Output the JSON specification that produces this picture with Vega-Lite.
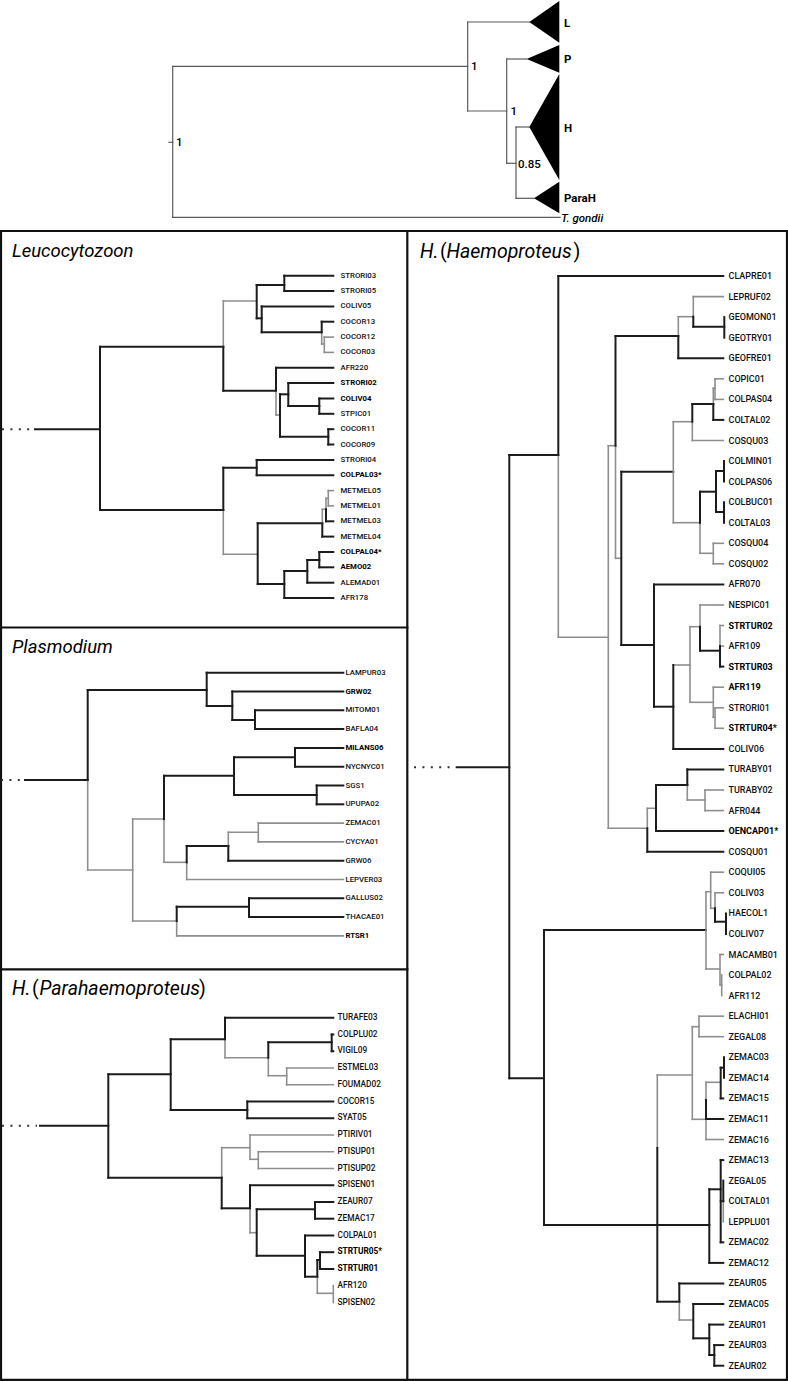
{
"$schema":"https://vega.github.io/schema/vega-lite/v6.json",
"width":788,"height":1381,"padding":0,"autosize":{"type":"none"},
"background":"white",
"config":{"view":{"stroke":null},"font":"Roboto"},
"datasets":{
"h":[
{"x":169,"x2":172.7,"y":142.3,"s":"t"},{"x":172.7,"x2":467.7,"y":66.3,"s":"t"},{"x":172.7,"x2":560,"y":217.3,"s":"t"},{"x":467.7,"x2":529.3,"y":22,"s":"t"},{"x":467.7,"x2":506.7,"y":111,"s":"t"},{"x":506.7,"x2":526.7,"y":59,"s":"t"},{"x":506.7,"x2":516,"y":163.3,"s":"t"},{"x":516,"x2":529.3,"y":127,"s":"t"},{"x":516,"x2":534,"y":198.3,"s":"t"},
{"x":0,"x2":788,"y":231,"s":"f"},{"x":0,"x2":407.3,"y":627.5,"s":"f"},{"x":0,"x2":407.3,"y":969.3,"s":"f"},{"x":0,"x2":788,"y":1379.8,"s":"f"},
{"x":35,"x2":100,"y":429.2,"s":"k"},{"x":100,"x2":223.3,"y":346.7,"s":"k"},{"x":223.3,"x2":256.7,"y":301,"s":"g"},{"x":256.7,"x2":284.3,"y":285,"s":"k"},{"x":284.3,"x2":333.3,"y":275.7,"s":"k"},{"x":284.3,"x2":333.3,"y":291,"s":"k"},{"x":256.7,"x2":261.7,"y":318.3,"s":"k"},{"x":261.7,"x2":333.3,"y":306.4,"s":"k"},{"x":261.7,"x2":321.7,"y":332.3,"s":"k"},{"x":321.7,"x2":333.3,"y":321.7,"s":"k"},{"x":321.7,"x2":324.3,"y":344,"s":"g"},{"x":324.3,"x2":333.3,"y":337.1,"s":"g"},{"x":324.3,"x2":333.3,"y":352.4,"s":"g"},{"x":223.3,"x2":276,"y":390.7,"s":"k"},{"x":276,"x2":333.3,"y":367.8,"s":"k"},{"x":276,"x2":280,"y":415,"s":"g"},{"x":280,"x2":288.3,"y":394.3,"s":"k"},{"x":288.3,"x2":333.3,"y":383.1,"s":"k"},{"x":288.3,"x2":319.3,"y":406,"s":"k"},{"x":319.3,"x2":333.3,"y":398.5,"s":"k"},{"x":319.3,"x2":333.3,"y":413.8,"s":"k"},{"x":280,"x2":328.3,"y":436.7,"s":"k"},{"x":328.3,"x2":333.3,"y":429.2,"s":"k"},{"x":328.3,"x2":333.3,"y":444.5,"s":"k"},{"x":100,"x2":223.3,"y":510,"s":"k"},{"x":223.3,"x2":256.7,"y":467.7,"s":"k"},{"x":256.7,"x2":333.3,"y":459.9,"s":"k"},{"x":256.7,"x2":333.3,"y":475.2,"s":"k"},{"x":223.3,"x2":257.7,"y":554.3,"s":"g"},{"x":257.7,"x2":322.3,"y":523.3,"s":"k"},{"x":322.3,"x2":333.3,"y":536.6,"s":"k"},{"x":322.3,"x2":326,"y":509.3,"s":"g"},{"x":326,"x2":333.3,"y":521.3,"s":"k"},{"x":326,"x2":328.3,"y":498.3,"s":"g"},{"x":328.3,"x2":333.3,"y":490.6,"s":"g"},{"x":328.3,"x2":333.3,"y":505.9,"s":"g"},{"x":257.7,"x2":284.3,"y":584,"s":"k"},{"x":284.3,"x2":333.3,"y":598,"s":"k"},{"x":284.3,"x2":307.3,"y":571,"s":"k"},{"x":307.3,"x2":333.3,"y":582.7,"s":"k"},{"x":307.3,"x2":319.3,"y":560,"s":"k"},{"x":319.3,"x2":333.3,"y":552,"s":"k"},{"x":319.3,"x2":333.3,"y":567.3,"s":"k"},
{"x":25,"x2":87.7,"y":780,"s":"k"},{"x":87.7,"x2":206.7,"y":690,"s":"k"},{"x":206.7,"x2":343.3,"y":672.7,"s":"k"},{"x":206.7,"x2":232.3,"y":706,"s":"k"},{"x":232.3,"x2":343.3,"y":691.5,"s":"k"},{"x":232.3,"x2":255,"y":720,"s":"k"},{"x":255,"x2":343.3,"y":710.3,"s":"k"},{"x":255,"x2":343.3,"y":729.1,"s":"k"},{"x":87.7,"x2":132.7,"y":870,"s":"g"},{"x":132.7,"x2":164,"y":819,"s":"g"},{"x":164,"x2":234,"y":775.7,"s":"k"},{"x":234,"x2":295,"y":757.3,"s":"k"},{"x":295,"x2":343.3,"y":747.9,"s":"k"},{"x":295,"x2":343.3,"y":766.7,"s":"k"},{"x":234,"x2":316.7,"y":795,"s":"k"},{"x":316.7,"x2":343.3,"y":785.5,"s":"k"},{"x":316.7,"x2":343.3,"y":804.3,"s":"k"},{"x":164,"x2":186.7,"y":862.3,"s":"g"},{"x":186.7,"x2":228.3,"y":846,"s":"k"},{"x":228.3,"x2":258.3,"y":832.3,"s":"g"},{"x":258.3,"x2":343.3,"y":823.1,"s":"g"},{"x":258.3,"x2":343.3,"y":841.9,"s":"g"},{"x":228.3,"x2":343.3,"y":860.7,"s":"k"},{"x":186.7,"x2":343.3,"y":879.5,"s":"g"},{"x":132.7,"x2":176.7,"y":921,"s":"g"},{"x":176.7,"x2":249,"y":906.7,"s":"k"},{"x":249,"x2":343.3,"y":898.3,"s":"k"},{"x":249,"x2":343.3,"y":917.1,"s":"k"},{"x":176.7,"x2":343.3,"y":935.9,"s":"g"},
{"x":40,"x2":108.3,"y":1125.7,"s":"k"},{"x":108.3,"x2":170.7,"y":1074.3,"s":"k"},{"x":170.7,"x2":225,"y":1039.3,"s":"k"},{"x":225,"x2":333.3,"y":1017.7,"s":"k"},{"x":225,"x2":268.3,"y":1057.7,"s":"g"},{"x":268.3,"x2":331.7,"y":1042.3,"s":"k"},{"x":331.7,"x2":333.3,"y":1034.5,"s":"k"},{"x":331.7,"x2":333.3,"y":1051.2,"s":"k"},{"x":268.3,"x2":286.7,"y":1075.7,"s":"g"},{"x":286.7,"x2":333.3,"y":1068,"s":"g"},{"x":286.7,"x2":333.3,"y":1084.7,"s":"g"},{"x":170.7,"x2":247.3,"y":1110,"s":"k"},{"x":247.3,"x2":333.3,"y":1101.5,"s":"k"},{"x":247.3,"x2":333.3,"y":1118.2,"s":"k"},{"x":108.3,"x2":221.7,"y":1177.7,"s":"k"},{"x":221.7,"x2":250,"y":1147.7,"s":"g"},{"x":250,"x2":333.3,"y":1135,"s":"g"},{"x":250,"x2":258.3,"y":1159.3,"s":"g"},{"x":258.3,"x2":333.3,"y":1151.7,"s":"g"},{"x":258.3,"x2":333.3,"y":1168.5,"s":"g"},{"x":221.7,"x2":250,"y":1208.3,"s":"k"},{"x":250,"x2":333.3,"y":1185.2,"s":"k"},{"x":250,"x2":256.7,"y":1232.7,"s":"g"},{"x":256.7,"x2":315,"y":1209.3,"s":"k"},{"x":315,"x2":333.3,"y":1202,"s":"k"},{"x":315,"x2":333.3,"y":1218.7,"s":"k"},{"x":256.7,"x2":305,"y":1255.7,"s":"k"},{"x":305,"x2":333.3,"y":1235.5,"s":"k"},{"x":305,"x2":317.3,"y":1276.7,"s":"k"},{"x":317.3,"x2":320,"y":1260,"s":"k"},{"x":320,"x2":333.3,"y":1252.2,"s":"k"},{"x":320,"x2":333.3,"y":1269,"s":"k"},{"x":317.3,"x2":333.3,"y":1293.3,"s":"g"},
{"x":456.7,"x2":509.3,"y":767.3,"s":"k"},{"x":509.3,"x2":558.3,"y":455,"s":"k"},{"x":558.3,"x2":723.3,"y":276,"s":"k"},{"x":558.3,"x2":608.3,"y":637.3,"s":"g"},{"x":608.3,"x2":615.5,"y":445.7,"s":"g"},{"x":615.5,"x2":678.3,"y":336,"s":"k"},{"x":678.3,"x2":693.3,"y":316.7,"s":"g"},{"x":693.3,"x2":723.3,"y":296.6,"s":"g"},{"x":693.3,"x2":724.3,"y":326.7,"s":"k"},{"x":678.3,"x2":723.3,"y":358.2,"s":"k"},{"x":615.5,"x2":621.3,"y":558.3,"s":"g"},{"x":621.3,"x2":673.3,"y":471.7,"s":"k"},{"x":673.3,"x2":692.3,"y":421.7,"s":"g"},{"x":692.3,"x2":713.3,"y":404,"s":"k"},{"x":713.3,"x2":715,"y":388.3,"s":"g"},{"x":715,"x2":723.3,"y":378.8,"s":"g"},{"x":715,"x2":723.3,"y":399.4,"s":"g"},{"x":713.3,"x2":723.3,"y":419.9,"s":"k"},{"x":692.3,"x2":723.3,"y":440.5,"s":"g"},{"x":673.3,"x2":700,"y":522.7,"s":"g"},{"x":700,"x2":716,"y":491.7,"s":"k"},{"x":716,"x2":724,"y":471,"s":"k"},{"x":716,"x2":724,"y":512,"s":"k"},{"x":700,"x2":713.3,"y":553.3,"s":"g"},{"x":713.3,"x2":723.3,"y":543.3,"s":"g"},{"x":713.3,"x2":723.3,"y":563.8,"s":"g"},{"x":621.3,"x2":654,"y":645,"s":"k"},{"x":654,"x2":723.3,"y":584.4,"s":"k"},{"x":654,"x2":673.3,"y":706.7,"s":"k"},{"x":673.3,"x2":690,"y":665,"s":"g"},{"x":690,"x2":700,"y":626.7,"s":"g"},{"x":700,"x2":723.3,"y":605,"s":"g"},{"x":700,"x2":720,"y":650.7,"s":"k"},{"x":720,"x2":723.3,"y":625.5,"s":"g"},{"x":720,"x2":723.3,"y":646.1,"s":"g"},{"x":720,"x2":723.3,"y":666.6,"s":"k"},{"x":690,"x2":713.3,"y":702.3,"s":"g"},{"x":713.3,"x2":723.3,"y":687.2,"s":"g"},{"x":713.3,"x2":715,"y":717.3,"s":"g"},{"x":715,"x2":723.3,"y":707.8,"s":"g"},{"x":715,"x2":723.3,"y":728.3,"s":"g"},{"x":673.3,"x2":723.3,"y":748.9,"s":"k"},{"x":608.3,"x2":647.3,"y":828.3,"s":"g"},{"x":647.3,"x2":656,"y":808.3,"s":"g"},{"x":656,"x2":687.3,"y":785,"s":"k"},{"x":687.3,"x2":723.3,"y":769.4,"s":"k"},{"x":687.3,"x2":705,"y":800,"s":"g"},{"x":705,"x2":723.3,"y":790,"s":"g"},{"x":705,"x2":723.3,"y":810.6,"s":"g"},{"x":656,"x2":723.3,"y":831.1,"s":"k"},{"x":647.3,"x2":723.3,"y":851.7,"s":"k"},{"x":509.3,"x2":544,"y":1078.3,"s":"k"},{"x":544,"x2":706,"y":930,"s":"k"},{"x":706,"x2":710.7,"y":891.7,"s":"g"},{"x":710.7,"x2":723.3,"y":872.2,"s":"g"},{"x":710.7,"x2":715,"y":908.3,"s":"g"},{"x":715,"x2":723.3,"y":892.8,"s":"g"},{"x":715,"x2":726,"y":921.7,"s":"k"},{"x":706,"x2":720,"y":969,"s":"g"},{"x":720,"x2":723.3,"y":954.5,"s":"g"},{"x":720,"x2":721.7,"y":985,"s":"g"},{"x":544,"x2":709.3,"y":1225,"s":"k"},{"x":657.3,"x2":692.3,"y":1075,"s":"g"},{"x":692.3,"x2":699,"y":1026.7,"s":"g"},{"x":699,"x2":723.3,"y":1016.2,"s":"g"},{"x":699,"x2":723.3,"y":1036.7,"s":"g"},{"x":692.3,"x2":706,"y":1119.3,"s":"g"},{"x":706,"x2":720.7,"y":1082.3,"s":"g"},{"x":720.7,"x2":724,"y":1067.7,"s":"k"},{"x":720.7,"x2":723.3,"y":1098.4,"s":"k"},{"x":706,"x2":723.3,"y":1119,"s":"k"},{"x":706,"x2":723.3,"y":1139.5,"s":"g"},{"x":709.3,"x2":720.7,"y":1189.3,"s":"k"},{"x":720.7,"x2":723.3,"y":1160.1,"s":"k"},{"x":720.7,"x2":723.3,"y":1201.2,"s":"k"},{"x":720.7,"x2":723.3,"y":1242.3,"s":"k"},{"x":709.3,"x2":723.3,"y":1262.9,"s":"k"},{"x":657.3,"x2":679.3,"y":1301.7,"s":"k"},{"x":679.3,"x2":723.3,"y":1283.4,"s":"k"},{"x":679.3,"x2":693.3,"y":1320,"s":"g"},{"x":693.3,"x2":723.3,"y":1304,"s":"k"},{"x":693.3,"x2":709.3,"y":1338.3,"s":"k"},{"x":709.3,"x2":723.3,"y":1324.6,"s":"k"},{"x":709.3,"x2":714.3,"y":1355,"s":"k"},{"x":714.3,"x2":723.3,"y":1345.1,"s":"k"},{"x":714.3,"x2":723.3,"y":1365.7,"s":"k"}
],
"v":[
{"x":172.7,"y":66.3,"y2":217.3,"s":"t"},{"x":467.7,"y":22,"y2":111,"s":"t"},{"x":506.7,"y":59,"y2":163.3,"s":"t"},{"x":516,"y":127,"y2":198.3,"s":"t"},
{"x":1,"y":231,"y2":1379.8,"s":"f"},{"x":407.3,"y":231,"y2":1379.8,"s":"f"},{"x":787,"y":231,"y2":1379.8,"s":"f"},
{"x":100,"y":346.7,"y2":510,"s":"k"},{"x":223.3,"y":301,"y2":346.7,"s":"g"},{"x":223.3,"y":346.7,"y2":390.7,"s":"k"},{"x":256.7,"y":285,"y2":318.3,"s":"k"},{"x":284.3,"y":275.7,"y2":291,"s":"k"},{"x":261.7,"y":306.4,"y2":332.3,"s":"k"},{"x":321.7,"y":321.7,"y2":332.3,"s":"k"},{"x":321.7,"y":332.3,"y2":344,"s":"g"},{"x":324.3,"y":337.1,"y2":352.4,"s":"g"},{"x":276,"y":367.8,"y2":390.7,"s":"k"},{"x":276,"y":390.7,"y2":415,"s":"g"},{"x":280,"y":394.3,"y2":436.7,"s":"k"},{"x":288.3,"y":383.1,"y2":406,"s":"k"},{"x":319.3,"y":398.5,"y2":413.8,"s":"k"},{"x":328.3,"y":429.2,"y2":444.5,"s":"k"},{"x":223.3,"y":467.7,"y2":510,"s":"k"},{"x":223.3,"y":510,"y2":554.3,"s":"g"},{"x":256.7,"y":459.9,"y2":475.2,"s":"k"},{"x":257.7,"y":523.3,"y2":584,"s":"k"},{"x":322.3,"y":509.3,"y2":523.3,"s":"g"},{"x":322.3,"y":523.3,"y2":536.6,"s":"k"},{"x":326,"y":498.3,"y2":509.3,"s":"g"},{"x":326,"y":509.3,"y2":521.3,"s":"k"},{"x":328.3,"y":490.6,"y2":505.9,"s":"g"},{"x":284.3,"y":571,"y2":598,"s":"k"},{"x":307.3,"y":560,"y2":582.7,"s":"k"},{"x":319.3,"y":552,"y2":567.3,"s":"k"},
{"x":87.7,"y":690,"y2":780,"s":"k"},{"x":87.7,"y":780,"y2":870,"s":"g"},{"x":206.7,"y":672.7,"y2":706,"s":"k"},{"x":232.3,"y":691.5,"y2":720,"s":"k"},{"x":255,"y":710.3,"y2":729.1,"s":"k"},{"x":132.7,"y":819,"y2":921,"s":"g"},{"x":164,"y":775.7,"y2":819,"s":"k"},{"x":164,"y":819,"y2":862.3,"s":"g"},{"x":234,"y":757.3,"y2":795,"s":"k"},{"x":295,"y":747.9,"y2":766.7,"s":"k"},{"x":316.7,"y":785.5,"y2":804.3,"s":"k"},{"x":186.7,"y":846,"y2":862.3,"s":"k"},{"x":186.7,"y":862.3,"y2":879.5,"s":"g"},{"x":228.3,"y":832.3,"y2":846,"s":"g"},{"x":228.3,"y":846,"y2":860.7,"s":"k"},{"x":258.3,"y":823.1,"y2":841.9,"s":"g"},{"x":176.7,"y":906.7,"y2":921,"s":"k"},{"x":176.7,"y":921,"y2":935.9,"s":"g"},{"x":249,"y":898.3,"y2":917.1,"s":"k"},
{"x":108.3,"y":1074.3,"y2":1177.7,"s":"k"},{"x":170.7,"y":1039.3,"y2":1110,"s":"k"},{"x":225,"y":1017.7,"y2":1039.3,"s":"k"},{"x":225,"y":1039.3,"y2":1057.7,"s":"g"},{"x":268.3,"y":1042.3,"y2":1057.7,"s":"k"},{"x":268.3,"y":1057.7,"y2":1075.7,"s":"g"},{"x":331.7,"y":1034.5,"y2":1051.2,"s":"k"},{"x":286.7,"y":1068,"y2":1084.7,"s":"g"},{"x":247.3,"y":1101.5,"y2":1118.2,"s":"k"},{"x":221.7,"y":1147.7,"y2":1177.7,"s":"g"},{"x":221.7,"y":1177.7,"y2":1208.3,"s":"k"},{"x":250,"y":1135,"y2":1159.3,"s":"g"},{"x":258.3,"y":1151.7,"y2":1168.5,"s":"g"},{"x":250,"y":1185.2,"y2":1208.3,"s":"k"},{"x":250,"y":1208.3,"y2":1232.7,"s":"g"},{"x":256.7,"y":1209.3,"y2":1255.7,"s":"k"},{"x":315,"y":1202,"y2":1218.7,"s":"k"},{"x":305,"y":1235.5,"y2":1276.7,"s":"k"},{"x":317.3,"y":1260,"y2":1276.7,"s":"k"},{"x":317.3,"y":1276.7,"y2":1293.3,"s":"g"},{"x":320,"y":1252.2,"y2":1269,"s":"k"},{"x":333.3,"y":1285.7,"y2":1302.5,"s":"g"},
{"x":509.3,"y":455,"y2":1078.3,"s":"k"},{"x":558.3,"y":276,"y2":455,"s":"k"},{"x":558.3,"y":455,"y2":637.3,"s":"g"},{"x":608.3,"y":445.7,"y2":828.3,"s":"g"},{"x":615.5,"y":336,"y2":445.7,"s":"k"},{"x":615.5,"y":445.7,"y2":558.3,"s":"g"},{"x":678.3,"y":316.7,"y2":336,"s":"g"},{"x":678.3,"y":336,"y2":358.2,"s":"k"},{"x":693.3,"y":296.6,"y2":316.7,"s":"g"},{"x":693.3,"y":316.7,"y2":326.7,"s":"k"},{"x":724.3,"y":317.1,"y2":337.7,"s":"k"},{"x":621.3,"y":471.7,"y2":645,"s":"k"},{"x":673.3,"y":421.7,"y2":522.7,"s":"g"},{"x":692.3,"y":404,"y2":421.7,"s":"k"},{"x":692.3,"y":421.7,"y2":440.5,"s":"g"},{"x":713.3,"y":388.3,"y2":404,"s":"g"},{"x":713.3,"y":404,"y2":419.9,"s":"k"},{"x":715,"y":378.8,"y2":399.4,"s":"g"},{"x":700,"y":491.7,"y2":522.7,"s":"k"},{"x":700,"y":522.7,"y2":553.3,"s":"g"},{"x":716,"y":471,"y2":512,"s":"k"},{"x":724,"y":461,"y2":481.6,"s":"k"},{"x":724,"y":502.2,"y2":522.7,"s":"k"},{"x":713.3,"y":543.3,"y2":563.8,"s":"g"},{"x":654,"y":584.4,"y2":706.7,"s":"k"},{"x":673.3,"y":665,"y2":748.9,"s":"k"},{"x":690,"y":626.7,"y2":702.3,"s":"g"},{"x":700,"y":605,"y2":626.7,"s":"g"},{"x":700,"y":626.7,"y2":650.7,"s":"k"},{"x":720,"y":625.5,"y2":646.1,"s":"g"},{"x":720,"y":646.1,"y2":666.6,"s":"k"},{"x":713.3,"y":687.2,"y2":717.3,"s":"g"},{"x":715,"y":707.8,"y2":728.3,"s":"g"},{"x":647.3,"y":808.3,"y2":828.3,"s":"g"},{"x":647.3,"y":828.3,"y2":851.7,"s":"k"},{"x":656,"y":785,"y2":831.1,"s":"k"},{"x":687.3,"y":769.4,"y2":785,"s":"k"},{"x":687.3,"y":785,"y2":800,"s":"g"},{"x":705,"y":790,"y2":810.6,"s":"g"},{"x":544,"y":930,"y2":1225,"s":"k"},{"x":706,"y":891.7,"y2":969,"s":"g"},{"x":710.7,"y":872.2,"y2":908.3,"s":"g"},{"x":715,"y":892.8,"y2":908.3,"s":"g"},{"x":715,"y":908.3,"y2":921.7,"s":"k"},{"x":726,"y":913.4,"y2":933.9,"s":"k"},{"x":720,"y":954.5,"y2":985,"s":"g"},{"x":721.7,"y":975,"y2":995.6,"s":"g"},{"x":657.3,"y":1075,"y2":1148,"s":"g"},{"x":657.3,"y":1148,"y2":1301.7,"s":"k"},{"x":692.3,"y":1026.7,"y2":1119.3,"s":"g"},{"x":699,"y":1016.2,"y2":1036.7,"s":"g"},{"x":706,"y":1082.3,"y2":1100,"s":"g"},{"x":706,"y":1100,"y2":1119,"s":"k"},{"x":706,"y":1119,"y2":1139.5,"s":"g"},{"x":720.7,"y":1067.7,"y2":1098.4,"s":"k"},{"x":724,"y":1057.3,"y2":1077.8,"s":"k"},{"x":709.3,"y":1189.3,"y2":1262.9,"s":"k"},{"x":720.7,"y":1160.1,"y2":1242.3,"s":"k"},{"x":723.3,"y":1180.6,"y2":1201.2,"s":"k"},{"x":723.3,"y":1201.2,"y2":1221.8,"s":"g"},{"x":679.3,"y":1283.4,"y2":1301.7,"s":"k"},{"x":679.3,"y":1301.7,"y2":1320,"s":"g"},{"x":693.3,"y":1304,"y2":1338.3,"s":"k"},{"x":709.3,"y":1324.6,"y2":1355,"s":"k"},{"x":714.3,"y":1345.1,"y2":1365.7,"s":"k"}
],
"dots":[{"x":2,"x2":33,"y":429.2},{"x":1,"x2":23,"y":780},{"x":2,"x2":37,"y":1125.7},{"x":414,"x2":453,"y":767.3}],
"tri":[{"g":"L","x":529.3,"y":22,"y2":22},{"g":"L","x":559.3,"y":1,"y2":42.7},{"g":"P","x":526.7,"y":59,"y2":59},{"g":"P","x":559.3,"y":45,"y2":72.7},{"g":"H","x":529.3,"y":127,"y2":127},{"g":"H","x":559.3,"y":74,"y2":180},{"g":"ParaH","x":534,"y":198.3,"y2":198.3},{"g":"ParaH","x":559.3,"y":181.7,"y2":213.3}],
"tl":[{"t":"1","x":176,"y":142.5,"w":"n"},{"t":"1","x":471,"y":67,"w":"n"},{"t":"1","x":510.5,"y":111.5,"w":"n"},{"t":"0.85","x":518,"y":164.5,"w":"n"},{"t":"L","x":564,"y":24,"w":"b"},{"t":"P","x":564,"y":59.5,"w":"b"},{"t":"H","x":564,"y":128.5,"w":"b"},{"t":"ParaH","x":564,"y":199,"w":"b"},{"t":"T. gondii","x":561,"y":218.5,"w":"i"}],
"ti":[{"t":"Leucocytozoon","x":12,"y":251,"w":"i"},{"t":"Plasmodium","x":12,"y":647,"w":"i"},{"t":"H.","x":12,"y":988.5,"w":"hi"},{"t":"(","x":32,"y":988.5,"w":"hn"},{"t":"Parahaemoproteus","x":39.5,"y":988.5,"w":"hi"},{"t":")","x":199,"y":988.5,"w":"hn"},{"t":"H.","x":420,"y":251.5,"w":"hi"},{"t":"(","x":440,"y":251.5,"w":"hn"},{"t":"Haemoproteus","x":446.5,"y":251.5,"w":"hi"},{"t":")","x":573.5,"y":251.5,"w":"hn"}],
"tips":[
{"n":"STRORI03","x":340.5,"y":275.7,"p":"L","b":0},{"n":"STRORI05","x":340.5,"y":291,"p":"L","b":0},{"n":"COLIV05","x":340.5,"y":306.4,"p":"L","b":0},{"n":"COCOR13","x":340.5,"y":321.7,"p":"L","b":0},{"n":"COCOR12","x":340.5,"y":337.1,"p":"L","b":0},{"n":"COCOR03","x":340.5,"y":352.4,"p":"L","b":0},{"n":"AFR220","x":340.5,"y":367.8,"p":"L","b":0},{"n":"STRORI02","x":340.5,"y":383.1,"p":"L","b":1},{"n":"COLIV04","x":340.5,"y":398.5,"p":"L","b":1},{"n":"STPIC01","x":340.5,"y":413.8,"p":"L","b":0},{"n":"COCOR11","x":340.5,"y":429.2,"p":"L","b":0},{"n":"COCOR09","x":340.5,"y":444.5,"p":"L","b":0},{"n":"STRORI04","x":340.5,"y":459.9,"p":"L","b":0},{"n":"COLPAL03*","x":340.5,"y":475.2,"p":"L","b":1},{"n":"METMEL05","x":340.5,"y":490.6,"p":"L","b":0},{"n":"METMEL01","x":340.5,"y":505.9,"p":"L","b":0},{"n":"METMEL03","x":340.5,"y":521.3,"p":"L","b":0},{"n":"METMEL04","x":340.5,"y":536.6,"p":"L","b":0},{"n":"COLPAL04*","x":340.5,"y":552,"p":"L","b":1},{"n":"AEMO02","x":340.5,"y":567.3,"p":"L","b":1},{"n":"ALEMAD01","x":340.5,"y":582.7,"p":"L","b":0},{"n":"AFR178","x":340.5,"y":598,"p":"L","b":0},
{"n":"LAMPUR03","x":345.5,"y":672.7,"p":"P","b":0},{"n":"GRW02","x":345.5,"y":691.5,"p":"P","b":1},{"n":"MITOM01","x":345.5,"y":710.3,"p":"P","b":0},{"n":"BAFLA04","x":345.5,"y":729.1,"p":"P","b":0},{"n":"MILANS06","x":345.5,"y":747.9,"p":"P","b":1},{"n":"NYCNYC01","x":345.5,"y":766.7,"p":"P","b":0},{"n":"SGS1","x":345.5,"y":785.5,"p":"P","b":0},{"n":"UPUPA02","x":345.5,"y":804.3,"p":"P","b":0},{"n":"ZEMAC01","x":345.5,"y":823.1,"p":"P","b":0},{"n":"CYCYA01","x":345.5,"y":841.9,"p":"P","b":0},{"n":"GRW06","x":345.5,"y":860.7,"p":"P","b":0},{"n":"LEPVER03","x":345.5,"y":879.5,"p":"P","b":0},{"n":"GALLUS02","x":345.5,"y":898.3,"p":"P","b":0},{"n":"THACAE01","x":345.5,"y":917.1,"p":"P","b":0},{"n":"RTSR1","x":345.5,"y":935.9,"p":"P","b":1},
{"n":"TURAFE03","x":337.5,"y":1017.7,"p":"R","b":0},{"n":"COLPLU02","x":337.5,"y":1034.5,"p":"R","b":0},{"n":"VIGIL09","x":337.5,"y":1051.2,"p":"R","b":0},{"n":"ESTMEL03","x":337.5,"y":1068,"p":"R","b":0},{"n":"FOUMAD02","x":337.5,"y":1084.7,"p":"R","b":0},{"n":"COCOR15","x":337.5,"y":1101.5,"p":"R","b":0},{"n":"SYAT05","x":337.5,"y":1118.2,"p":"R","b":0},{"n":"PTIRIV01","x":337.5,"y":1135,"p":"R","b":0},{"n":"PTISUP01","x":337.5,"y":1151.7,"p":"R","b":0},{"n":"PTISUP02","x":337.5,"y":1168.5,"p":"R","b":0},{"n":"SPISEN01","x":337.5,"y":1185.2,"p":"R","b":0},{"n":"ZEAUR07","x":337.5,"y":1202,"p":"R","b":0},{"n":"ZEMAC17","x":337.5,"y":1218.7,"p":"R","b":0},{"n":"COLPAL01","x":337.5,"y":1235.5,"p":"R","b":0},{"n":"STRTUR05*","x":337.5,"y":1252.2,"p":"R","b":1},{"n":"STRTUR01","x":337.5,"y":1269,"p":"R","b":1},{"n":"AFR120","x":337.5,"y":1285.7,"p":"R","b":0},{"n":"SPISEN02","x":337.5,"y":1302.5,"p":"R","b":0},
{"n":"CLAPRE01","x":728.5,"y":276,"p":"H","b":0},{"n":"LEPRUF02","x":728.5,"y":296.6,"p":"H","b":0},{"n":"GEOMON01","x":728.5,"y":317.1,"p":"H","b":0},{"n":"GEOTRY01","x":728.5,"y":337.7,"p":"H","b":0},{"n":"GEOFRE01","x":728.5,"y":358.2,"p":"H","b":0},{"n":"COPIC01","x":728.5,"y":378.8,"p":"H","b":0},{"n":"COLPAS04","x":728.5,"y":399.4,"p":"H","b":0},{"n":"COLTAL02","x":728.5,"y":419.9,"p":"H","b":0},{"n":"COSQU03","x":728.5,"y":440.5,"p":"H","b":0},{"n":"COLMIN01","x":728.5,"y":461,"p":"H","b":0},{"n":"COLPAS06","x":728.5,"y":481.6,"p":"H","b":0},{"n":"COLBUC01","x":728.5,"y":502.2,"p":"H","b":0},{"n":"COLTAL03","x":728.5,"y":522.7,"p":"H","b":0},{"n":"COSQU04","x":728.5,"y":543.3,"p":"H","b":0},{"n":"COSQU02","x":728.5,"y":563.8,"p":"H","b":0},{"n":"AFR070","x":728.5,"y":584.4,"p":"H","b":0},{"n":"NESPIC01","x":728.5,"y":605,"p":"H","b":0},{"n":"STRTUR02","x":728.5,"y":625.5,"p":"H","b":1},{"n":"AFR109","x":728.5,"y":646.1,"p":"H","b":0},{"n":"STRTUR03","x":728.5,"y":666.6,"p":"H","b":1},{"n":"AFR119","x":728.5,"y":687.2,"p":"H","b":1},{"n":"STRORI01","x":728.5,"y":707.8,"p":"H","b":0},{"n":"STRTUR04*","x":728.5,"y":728.3,"p":"H","b":1},{"n":"COLIV06","x":728.5,"y":748.9,"p":"H","b":0},{"n":"TURABY01","x":728.5,"y":769.4,"p":"H","b":0},{"n":"TURABY02","x":728.5,"y":790,"p":"H","b":0},{"n":"AFR044","x":728.5,"y":810.6,"p":"H","b":0},{"n":"OENCAP01*","x":728.5,"y":831.1,"p":"H","b":1},{"n":"COSQU01","x":728.5,"y":851.7,"p":"H","b":0},{"n":"COQUI05","x":728.5,"y":872.2,"p":"H","b":0},{"n":"COLIV03","x":728.5,"y":892.8,"p":"H","b":0},{"n":"HAECOL1","x":728.5,"y":913.4,"p":"H","b":0},{"n":"COLIV07","x":728.5,"y":933.9,"p":"H","b":0},{"n":"MACAMB01","x":728.5,"y":954.5,"p":"H","b":0},{"n":"COLPAL02","x":728.5,"y":975,"p":"H","b":0},{"n":"AFR112","x":728.5,"y":995.6,"p":"H","b":0},{"n":"ELACHI01","x":728.5,"y":1016.2,"p":"H","b":0},{"n":"ZEGAL08","x":728.5,"y":1036.7,"p":"H","b":0},{"n":"ZEMAC03","x":728.5,"y":1057.3,"p":"H","b":0},{"n":"ZEMAC14","x":728.5,"y":1077.8,"p":"H","b":0},{"n":"ZEMAC15","x":728.5,"y":1098.4,"p":"H","b":0},{"n":"ZEMAC11","x":728.5,"y":1119,"p":"H","b":0},{"n":"ZEMAC16","x":728.5,"y":1139.5,"p":"H","b":0},{"n":"ZEMAC13","x":728.5,"y":1160.1,"p":"H","b":0},{"n":"ZEGAL05","x":728.5,"y":1180.6,"p":"H","b":0},{"n":"COLTAL01","x":728.5,"y":1201.2,"p":"H","b":0},{"n":"LEPPLU01","x":728.5,"y":1221.8,"p":"H","b":0},{"n":"ZEMAC02","x":728.5,"y":1242.3,"p":"H","b":0},{"n":"ZEMAC12","x":728.5,"y":1262.9,"p":"H","b":0},{"n":"ZEAUR05","x":728.5,"y":1283.4,"p":"H","b":0},{"n":"ZEMAC05","x":728.5,"y":1304,"p":"H","b":0},{"n":"ZEAUR01","x":728.5,"y":1324.6,"p":"H","b":0},{"n":"ZEAUR03","x":728.5,"y":1345.1,"p":"H","b":0},{"n":"ZEAUR02","x":728.5,"y":1365.7,"p":"H","b":0}
]
},
"layer":[
{"data":{"name":"h"},
 "encoding":{
  "x":{"field":"x","type":"quantitative","scale":{"domain":[0,788],"nice":false,"zero":false},"axis":null},
  "x2":{"field":"x2"},
  "y":{"field":"y","type":"quantitative","scale":{"domain":[0,1381],"nice":false,"zero":false,"reverse":true},"axis":null}},
 "layer":[
  {"transform":[{"filter":"datum.s=='t'"}],"mark":{"type":"rule","color":"#5a5a5a","strokeWidth":1.2,"strokeCap":"square"}},
  {"transform":[{"filter":"datum.s=='f'"}],"mark":{"type":"rule","color":"#111111","strokeWidth":2.2,"strokeCap":"square"}},
  {"transform":[{"filter":"datum.s=='g'"}],"mark":{"type":"rule","color":"#8e8e8e","strokeWidth":1.6,"strokeCap":"square"}},
  {"transform":[{"filter":"datum.s=='k'"}],"mark":{"type":"rule","color":"#1c1c1c","strokeWidth":2,"strokeCap":"square"}}
 ]},
{"data":{"name":"v"},
 "encoding":{
  "x":{"field":"x","type":"quantitative","scale":{"domain":[0,788],"nice":false,"zero":false},"axis":null},
  "y":{"field":"y","type":"quantitative","scale":{"domain":[0,1381],"nice":false,"zero":false,"reverse":true},"axis":null},
  "y2":{"field":"y2"}},
 "layer":[
  {"transform":[{"filter":"datum.s=='t'"}],"mark":{"type":"rule","color":"#5a5a5a","strokeWidth":1.2,"strokeCap":"square"}},
  {"transform":[{"filter":"datum.s=='f'"}],"mark":{"type":"rule","color":"#111111","strokeWidth":2.2,"strokeCap":"square"}},
  {"transform":[{"filter":"datum.s=='g'"}],"mark":{"type":"rule","color":"#8e8e8e","strokeWidth":1.6,"strokeCap":"square"}},
  {"transform":[{"filter":"datum.s=='k'"}],"mark":{"type":"rule","color":"#1c1c1c","strokeWidth":2,"strokeCap":"square"}}
 ]},
{"data":{"name":"dots"},
 "mark":{"type":"rule","color":"#333333","strokeWidth":2,"strokeDash":[2,6.4]},
 "encoding":{
  "x":{"field":"x","type":"quantitative","scale":{"domain":[0,788],"nice":false,"zero":false},"axis":null},
  "x2":{"field":"x2"},
  "y":{"field":"y","type":"quantitative","scale":{"domain":[0,1381],"nice":false,"zero":false,"reverse":true},"axis":null}}},
{"data":{"name":"tri"},
 "mark":{"type":"area","color":"#000000","opacity":1},
 "encoding":{
  "x":{"field":"x","type":"quantitative","scale":{"domain":[0,788],"nice":false,"zero":false},"axis":null},
  "y":{"field":"y","type":"quantitative","scale":{"domain":[0,1381],"nice":false,"zero":false,"reverse":true},"axis":null},
  "y2":{"field":"y2"},
  "detail":{"field":"g","type":"nominal"}}},
{"data":{"name":"tl"},
 "encoding":{
  "x":{"field":"x","type":"quantitative","scale":{"domain":[0,788],"nice":false,"zero":false},"axis":null},
  "y":{"field":"y","type":"quantitative","scale":{"domain":[0,1381],"nice":false,"zero":false,"reverse":true},"axis":null},
  "text":{"field":"t"}},
 "layer":[
  {"transform":[{"filter":"datum.w=='n'"}],"mark":{"type":"text","align":"left","baseline":"middle","fontSize":11.5,"fontWeight":500,"color":"#000000"}},
  {"transform":[{"filter":"datum.w=='b'"}],"mark":{"type":"text","align":"left","baseline":"middle","fontSize":11.5,"fontWeight":"bold","color":"#000000"}},
  {"transform":[{"filter":"datum.w=='i'"}],"mark":{"type":"text","align":"left","baseline":"middle","fontSize":11.5,"fontStyle":"italic","fontWeight":500,"color":"#000000"}}
 ]},
{"data":{"name":"ti"},
 "encoding":{
  "x":{"field":"x","type":"quantitative","scale":{"domain":[0,788],"nice":false,"zero":false},"axis":null},
  "y":{"field":"y","type":"quantitative","scale":{"domain":[0,1381],"nice":false,"zero":false,"reverse":true},"axis":null},
  "text":{"field":"t"}},
 "layer":[
  {"transform":[{"filter":"datum.w=='i'"}],"mark":{"type":"text","align":"left","baseline":"middle","fontSize":18.5,"fontStyle":"italic","color":"#000000"}},
  {"transform":[{"filter":"datum.w=='hi'"}],"mark":{"type":"text","align":"left","baseline":"middle","fontSize":19.5,"fontStyle":"italic","color":"#000000"}},
  {"transform":[{"filter":"datum.w=='hn'"}],"mark":{"type":"text","align":"left","baseline":"middle","fontSize":19.5,"color":"#000000"}}
 ]},
{"data":{"name":"tips"},
 "encoding":{
  "x":{"field":"x","type":"quantitative","scale":{"domain":[0,788],"nice":false,"zero":false},"axis":null},
  "y":{"field":"y","type":"quantitative","scale":{"domain":[0,1381],"nice":false,"zero":false,"reverse":true},"axis":null},
  "text":{"field":"n"}},
 "layer":[
  {"transform":[{"filter":"datum.p=='L' && datum.b==0"}],"mark":{"type":"text","align":"left","baseline":"middle","fontSize":7.8,"fontWeight":500,"color":"#111111"}},
  {"transform":[{"filter":"datum.p=='L' && datum.b==1"}],"mark":{"type":"text","align":"left","baseline":"middle","fontSize":7.8,"fontWeight":"bold","color":"#000000"}},
  {"transform":[{"filter":"datum.p=='P' && datum.b==0"}],"mark":{"type":"text","align":"left","baseline":"middle","fontSize":7.8,"fontWeight":500,"color":"#111111"}},
  {"transform":[{"filter":"datum.p=='P' && datum.b==1"}],"mark":{"type":"text","align":"left","baseline":"middle","fontSize":7.8,"fontWeight":"bold","color":"#000000"}},
  {"transform":[{"filter":"datum.p=='R' && datum.b==0"}],"mark":{"type":"text","align":"left","baseline":"middle","fontSize":8.3,"fontWeight":500,"color":"#111111"}},
  {"transform":[{"filter":"datum.p=='R' && datum.b==1"}],"mark":{"type":"text","align":"left","baseline":"middle","fontSize":8.3,"fontWeight":"bold","color":"#000000"}},
  {"transform":[{"filter":"datum.p=='H' && datum.b==0"}],"mark":{"type":"text","align":"left","baseline":"middle","fontSize":9,"fontWeight":500,"color":"#111111"}},
  {"transform":[{"filter":"datum.p=='H' && datum.b==1"}],"mark":{"type":"text","align":"left","baseline":"middle","fontSize":9,"fontWeight":"bold","color":"#000000"}}
 ]}
]
}
